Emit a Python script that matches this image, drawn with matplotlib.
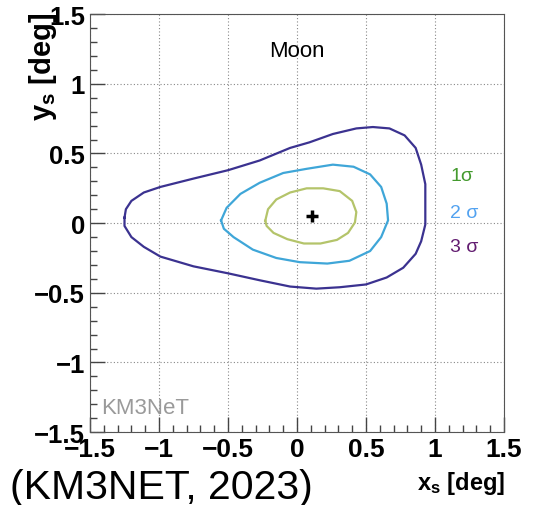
import matplotlib.pyplot as plt

plt.rcParams['font.family'] = ['Liberation Sans', 'DejaVu Sans']
plt.rcParams['mathtext.fontset'] = 'custom'
plt.rcParams['mathtext.rm'] = 'Liberation Sans'
plt.rcParams['mathtext.bf'] = 'Liberation Sans:bold'

# contour points (x_s, y_s in deg)
sig3_x = [-1.25, -1.24, -1.20, -1.11, -0.99, -0.75, -0.50, -0.27, -0.05, 0.09, 0.26,
          0.43, 0.55, 0.67, 0.78, 0.86, 0.90, 0.93, 0.93, 0.93, 0.90, 0.86, 0.77,
          0.65, 0.50, 0.31, 0.14, -0.05, -0.27, -0.50, -0.75, -0.99, -1.11, -1.20,
          -1.25, -1.25]
sig3_y = [0.04, 0.10, 0.16, 0.22, 0.26, 0.32, 0.38, 0.45, 0.54, 0.58, 0.64,
          0.68, 0.69, 0.68, 0.63, 0.54, 0.42, 0.28, 0.14, -0.01, -0.13, -0.22, -0.32,
          -0.39, -0.44, -0.46, -0.47, -0.455, -0.41, -0.36, -0.31, -0.24, -0.17, -0.10,
          -0.02, 0.04]

sig2_x = [-0.55, -0.51, -0.41, -0.27, -0.10, 0.07, 0.26, 0.41, 0.53, 0.61, 0.65,
          0.66, 0.61, 0.53, 0.38, 0.22, 0.02, -0.15, -0.32, -0.46, -0.53, -0.55]
sig2_y = [0.02, 0.11, 0.21, 0.29, 0.36, 0.39, 0.42, 0.405, 0.35, 0.26, 0.14,
          0.02, -0.10, -0.20, -0.27, -0.29, -0.28, -0.25, -0.19, -0.10, -0.04, 0.02]

sig1_x = [-0.23, -0.21, -0.15, -0.05, 0.07, 0.19, 0.31, 0.40, 0.43, 0.42, 0.37,
          0.29, 0.17, 0.05, -0.07, -0.17, -0.22, -0.23]
sig1_y = [0.017, 0.10, 0.17, 0.22, 0.25, 0.25, 0.23, 0.16, 0.08, 0.005, -0.07,
          -0.12, -0.146, -0.146, -0.115, -0.07, -0.02, 0.017]

best_fit = (0.11, 0.05)

labels = ['1σ', '2 σ', '3 σ']
label_y = [0.34, 0.08, -0.17]
label_colors = ['#449a2e', '#52a2f0', '#621c70']

fig = plt.figure(figsize=(5.39, 5.06), dpi=100)
ax = fig.add_axes([0.167, 0.144, 0.768, 0.826])

ax.plot(sig3_x, sig3_y, color='#3b3290', lw=1.6, solid_joinstyle='round')
ax.plot(sig2_x, sig2_y, color='#3fa6d8', lw=1.6, solid_joinstyle='round')
ax.plot(sig1_x, sig1_y, color='#b4c46a', lw=1.6, solid_joinstyle='round')
ax.plot(best_fit[0], best_fit[1], marker='+', color='black', ms=9, mew=2.5)

for lab, yy, c in zip(labels, label_y, label_colors):
    ax.text(1.11, yy, lab, color=c, fontsize=14, ha='left', va='center')

ax.text(0.0, 1.24, 'Moon', fontsize=16, ha='center', va='center')
ax.text(-1.42, -1.32, 'KM3NeT', fontsize=16, color='#9a9a9a', ha='left', va='center')

ax.set_xlim(-1.5, 1.5)
ax.set_ylim(-1.5, 1.5)
ticks = [-1.5, -1, -0.5, 0, 0.5, 1, 1.5]
ticklabels = ['−1.5', '−1', '−0.5', '0', '0.5', '1', '1.5']
ax.set_xticks(ticks)
ax.set_xticklabels(ticklabels)
ax.set_yticks(ticks)
ax.set_yticklabels(ticklabels)
minor = [i / 10 for i in range(-15, 16)]
ax.set_xticks(minor, minor=True)
ax.set_yticks(minor, minor=True)
ax.tick_params(which='both', direction='in', top=False, right=False, color='#444444')
ax.tick_params(which='major', length=11, width=1)
ax.tick_params(which='minor', length=5, width=1)
ax.tick_params(axis='x', which='major', labelsize=19, pad=3.6)
ax.tick_params(axis='y', which='major', labelsize=18.5, pad=3.6)
for lbl in ax.get_xticklabels() + ax.get_yticklabels():
    lbl.set_fontweight('bold')
ax.grid(True, which='major', linestyle=(0, (1, 2)), color='#888888', lw=0.8)
for s in ax.spines.values():
    s.set_color('#555555')

fig.text(0.08, 0.975, r'$\mathbf{y_{s}}$ [deg]', rotation=90, ha='center', va='top',
         fontsize=21, fontweight='bold')
fig.text(0.937, 0.045, r'$\mathbf{x_{s}}$ [deg]', ha='right', va='center',
         fontsize=17, fontweight='bold')
fig.text(0.018, 0.036, '(KM3NET, 2023)', ha='left', va='center', fontsize=29.5)

plt.savefig('out.png')
